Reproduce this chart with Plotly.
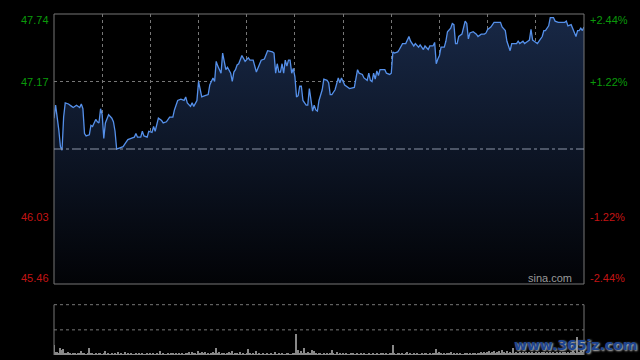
import plotly.graph_objects as go

# ---- data (minute index from open, HK session 330 min) ----
minutes = [0, 1, 3, 4, 5, 6, 7, 9, 11, 12, 14, 16, 17, 18, 19, 20, 22, 23, 24, 26,
           27, 28, 29, 30, 31, 32, 34, 36, 37, 38, 39, 41, 43, 45, 46, 48, 50, 51, 52, 54,
           55, 56, 58, 59, 61, 62, 63, 65, 67, 68, 70, 72, 74, 75, 77, 79, 81, 82, 83, 85,
           86, 87, 89, 90, 91, 92, 94, 96, 97, 99, 100, 101, 102, 104, 105, 107, 108, 110, 111, 112,
           113, 114, 115, 117, 119, 121, 122, 124, 126, 128, 129, 131, 133, 136, 137, 138, 139, 140, 141, 142,
           143, 144, 145, 146, 147, 148, 149, 150, 151, 152, 153, 154, 155, 157, 158, 159, 160, 161, 162, 163,
           164, 165, 167, 168, 170, 171, 172, 173, 175, 177, 178, 179, 181, 182, 183, 184, 187, 189, 190, 192,
           193, 195, 196, 197, 198, 199, 200, 201, 202, 203, 204, 206, 207, 209, 210, 211, 212, 214, 215, 217,
           219, 221, 222, 223, 224, 225, 227, 228, 229, 230, 231, 233, 234, 236, 237, 238, 239, 240, 241, 243,
           244, 245, 247, 248, 249, 250, 251, 252, 254, 255, 256, 257, 258, 259, 261, 263, 264, 266, 268, 269,
           270, 272, 274, 276, 278, 279, 281, 282, 284, 285, 286, 288, 289, 290, 292, 293, 295, 296, 297, 298,
           299, 301, 302, 304, 305, 306, 308, 309, 311, 312, 314, 317, 318, 319, 320, 322, 323, 325, 326, 327,
           328, 329, 330]
prices = [46.86, 46.97, 46.76, 46.62, 46.59, 46.87, 46.99, 46.98, 46.96, 46.95, 46.97, 46.95, 46.98, 46.94, 46.73, 46.71, 46.72, 46.80, 46.79, 46.85,
          46.83, 46.82, 46.94, 46.89, 46.69, 46.82, 46.89, 46.86, 46.83, 46.75, 46.60, 46.61, 46.62, 46.66, 46.68, 46.69, 46.70, 46.73, 46.70, 46.70,
          46.75, 46.71, 46.70, 46.75, 46.74, 46.79, 46.75, 46.86, 46.84, 46.82, 46.83, 46.87, 46.87, 46.93, 47.01, 47.02, 47.01, 47.04, 46.99, 46.96,
          46.99, 46.96, 47.01, 47.17, 47.11, 47.04, 47.05, 47.06, 47.14, 47.20, 47.17, 47.34, 47.30, 47.24, 47.41, 47.27, 47.29, 47.24, 47.17, 47.25,
          47.27, 47.31, 47.32, 47.39, 47.34, 47.37, 47.35, 47.35, 47.25, 47.31, 47.35, 47.36, 47.43, 47.42, 47.41, 47.24, 47.32, 47.25, 47.25, 47.32,
          47.24, 47.35, 47.30, 47.35, 47.35, 47.24, 47.28, 47.21, 47.04, 47.05, 47.13, 47.13, 47.01, 46.97, 46.97, 47.11, 47.01, 46.92, 46.97, 46.93,
          46.92, 47.01, 47.10, 47.19, 47.18, 47.16, 47.06, 47.06, 47.10, 47.20, 47.16, 47.20, 47.14, 47.13, 47.12, 47.11, 47.12, 47.27, 47.24, 47.23,
          47.20, 47.18, 47.24, 47.18, 47.17, 47.24, 47.19, 47.26, 47.22, 47.27, 47.27, 47.27, 47.24, 47.23, 47.24, 47.42, 47.41, 47.42, 47.44, 47.49,
          47.49, 47.55, 47.51, 47.49, 47.47, 47.49, 47.46, 47.48, 47.46, 47.44, 47.47, 47.44, 47.47, 47.47, 47.50, 47.32, 47.36, 47.39, 47.46, 47.46,
          47.51, 47.59, 47.62, 47.66, 47.65, 47.49, 47.49, 47.55, 47.57, 47.62, 47.68, 47.66, 47.53, 47.58, 47.59, 47.57, 47.55, 47.57, 47.57, 47.58,
          47.61, 47.63, 47.67, 47.67, 47.67, 47.63, 47.60, 47.51, 47.43, 47.49, 47.49, 47.49, 47.51, 47.49, 47.51, 47.49, 47.51, 47.52, 47.61, 47.52,
          47.51, 47.49, 47.51, 47.55, 47.60, 47.60, 47.64, 47.71, 47.71, 47.68, 47.67, 47.67, 47.67, 47.68, 47.64, 47.65, 47.62, 47.55, 47.60, 47.60,
          47.62, 47.60, 47.63]

# volume per minute (relative units)
volumes = [10, 3, 3, 2, 7, 5, 6, 2, 2, 3, 2, 1, 2, 2, 1, 2, 2, 4, 2, 2, 1, 2, 7, 2, 2, 1, 2, 1, 2, 2,
           1, 2, 4, 1, 2, 1, 2, 1, 2, 1, 3, 1, 2, 1, 3, 1, 2, 1, 2, 1, 1, 2, 1, 2, 1, 2, 1, 1, 2, 1,
           2, 1, 2, 1, 2, 1, 4, 1, 2, 1, 1, 2, 1, 2, 2, 1, 2, 1, 2, 1, 2, 1, 2, 2, 3, 1, 3, 2, 2, 1,
           4, 2, 3, 2, 3, 1, 2, 1, 2, 3, 2, 7, 2, 3, 1, 2, 2, 1, 2, 3, 2, 4, 1, 2, 2, 1, 3, 1, 2, 1,
           2, 6, 2, 1, 2, 1, 4, 1, 2, 1, 2, 1, 1, 2, 1, 2, 1, 1, 3, 1, 2, 1, 2, 1, 1, 2, 2, 1, 1, 2,
           2, 21, 5, 2, 4, 2, 7, 2, 3, 2, 2, 5, 4, 2, 1, 2, 2, 1, 2, 1, 2, 1, 2, 5, 2, 1, 3, 1, 2, 1,
           2, 1, 2, 1, 1, 2, 2, 1, 1, 2, 1, 2, 1, 2, 1, 1, 2, 1, 1, 2, 1, 2, 1, 1, 2, 2, 1, 2, 1, 2,
           2, 10, 2, 1, 2, 2, 1, 2, 1, 2, 3, 1, 2, 1, 2, 1, 2, 1, 1, 2, 1, 2, 2, 1, 2, 1, 2, 2, 6, 2,
           3, 2, 1, 2, 1, 2, 2, 3, 1, 2, 1, 2, 1, 2, 1, 1, 2, 2, 1, 2, 1, 2, 2, 1, 2, 2, 3, 2, 3, 2,
           3, 4, 2, 3, 4, 2, 3, 4, 2, 5, 3, 2, 4, 2, 3, 2, 7, 2, 3, 2, 3, 2, 3, 2, 3, 2, 3, 2, 3, 2,
           3, 2, 3, 2, 3, 3, 2, 3, 2, 3, 2, 3, 2, 3, 2, 3, 2, 3, 3, 2, 3, 2, 3, 4, 3, 2, 18, 3, 4, 3,
           6]
vol_minutes = list(range(len(volumes)))

prev_close = 46.60
left_ticks = [47.74, 47.17, 46.03, 45.46]
left_labels = ["47.74", "47.17", "46.03", "45.46"]
right_labels = ["+2.44%", "+1.22%", "-1.22%", "-2.44%"]
label_colors = ["#0a9a0a", "#0a9a0a", "#c41414", "#c41414"]
label_shift = [-6, 0, 0, 6]

y_min, y_max = 45.46, 47.74
grid_color = "#777777"
border_color = "#777777"

fig = go.Figure()
fig.add_trace(go.Scatter(
    x=minutes, y=prices, mode="lines",
    line=dict(color="#5590ea", width=1.3),
    fill="tozeroy",
    fillgradient=dict(type="vertical",
                      colorscale=[[0, "rgb(2,3,6)"], [1, "rgb(24,40,70)"]],
                      start=y_min, stop=y_max),
    xaxis="x", yaxis="y", hoverinfo="skip", showlegend=False))

fig.add_trace(go.Bar(
    x=vol_minutes, y=volumes, width=0.8,
    marker=dict(color="#888888", line=dict(width=0)),
    xaxis="x2", yaxis="y2", hoverinfo="skip", showlegend=False))

main_bottom = 0.2082
vol_top = 0.1475

fig.update_layout(
    width=640, height=360,
    margin=dict(l=54, r=56, t=14, b=5),
    paper_bgcolor="black", plot_bgcolor="black",
    font=dict(family="Liberation Sans, Arial", size=11),
    xaxis=dict(domain=[0, 1], range=[0, 330], anchor="y",
               tickvals=list(range(30, 330, 30)), showticklabels=False,
               showgrid=True, gridcolor=grid_color, griddash="dot", gridwidth=1,
               zeroline=False, showline=False, ticks=""),
    yaxis=dict(domain=[main_bottom, 1], range=[y_min, y_max],
               tickvals=[47.17, 46.03], showticklabels=False,
               showgrid=True, gridcolor=grid_color, griddash="dot", gridwidth=1,
               zeroline=False, showline=False, ticks=""),
    xaxis2=dict(domain=[0, 1], range=[0, 330], anchor="y2",
                showticklabels=False, showgrid=False, zeroline=False, showline=False),
    yaxis2=dict(domain=[0, vol_top], range=[0, 50],
                showticklabels=False, showgrid=False, zeroline=False, showline=False),
    bargap=0,
)

shapes = [
    dict(type="rect", xref="x domain", yref="y domain", x0=0, x1=1, y0=0, y1=1,
         line=dict(color=border_color, width=1)),
    dict(type="line", xref="x domain", yref="y", x0=0, x1=1, y0=prev_close, y1=prev_close,
         line=dict(color="#8d96a8", width=1, dash="dashdot")),
    dict(type="line", xref="x2 domain", yref="y2 domain", x0=0, x1=0, y0=0, y1=1,
         line=dict(color=border_color, width=1)),
    dict(type="line", xref="x2 domain", yref="y2 domain", x0=1, x1=1, y0=0, y1=1,
         line=dict(color=border_color, width=1)),
    dict(type="line", xref="x2 domain", yref="y2 domain", x0=0, x1=1, y0=1, y1=1,
         line=dict(color=grid_color, width=1, dash="dot")),
    dict(type="line", xref="x2 domain", yref="y2 domain", x0=0, x1=1, y0=0.5, y1=0.5,
         line=dict(color=grid_color, width=1, dash="dot")),
]
fig.update_layout(shapes=shapes)

annotations = []
for v, lt, rt, c, s in zip(left_ticks, left_labels, right_labels, label_colors, label_shift):
    annotations.append(dict(xref="paper", yref="y", x=0, y=v, text=lt, showarrow=False,
                            xanchor="right", yanchor="middle", xshift=-3, yshift=s,
                            font=dict(color=c, size=11)))
    annotations.append(dict(xref="paper", yref="y", x=1, y=v, text=rt, showarrow=False,
                            xanchor="left", yanchor="middle", xshift=4, yshift=s,
                            font=dict(color=c, size=11)))
annotations.append(dict(xref="paper", yref="y", x=1, y=y_min, text="sina.com", showarrow=False,
                        xanchor="right", yanchor="middle", xshift=-10, yshift=6,
                        font=dict(color="#9a9a9a", size=11)))
annotations.append(dict(xref="paper", yref="paper", x=1, y=0, text="<b>www.365jz.com</b>",
                        showarrow=False, xanchor="center", yanchor="middle",
                        xshift=-9, yshift=10,
                        font=dict(color="#1e4590", size=14, family="DejaVu Sans",
                                  shadow="1px 1px 2px #c8c8c8")))
fig.update_layout(annotations=annotations)

fig.write_html("out.html", config={"displayModeBar": False},
               post_script="document.body.style.margin='0';document.body.style.background='black';")
